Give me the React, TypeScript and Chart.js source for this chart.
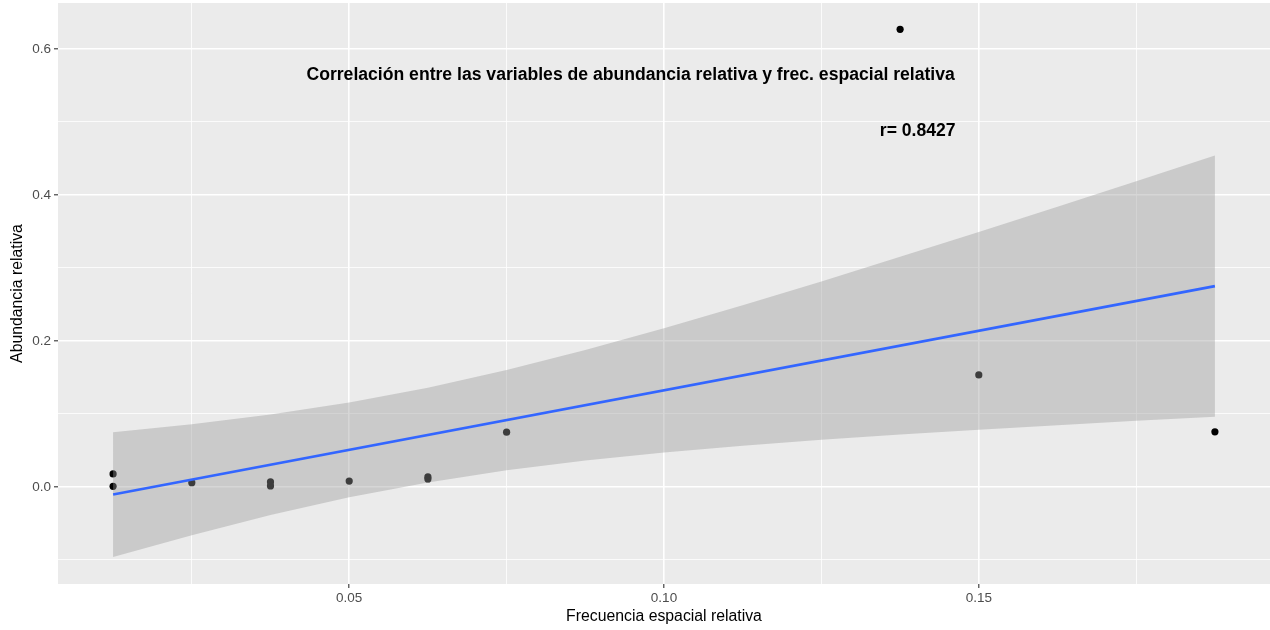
import React, { useEffect, useRef } from "react";
import { Chart, registerables } from "chart.js";

Chart.register(...registerables);

// ---- Data ----
const freq = [0.0125, 0.0125, 0.025, 0.0375, 0.0375, 0.05, 0.0625, 0.0625, 0.075, 0.1375, 0.15, 0.1875];
const abund = [0.0178, 0.0008, 0.0058, 0.0068, 0.0014, 0.008, 0.0137, 0.011, 0.075, 0.627, 0.1535, 0.0755];

const fitX = [0.0125, 0.1875];
const fitY = [-0.0105, 0.2751];

const bandX = [0.0125, 0.025, 0.0375, 0.05, 0.0625, 0.075, 0.0875, 0.1, 0.1125, 0.125, 0.1375, 0.15, 0.1625, 0.175, 0.1875];
const bandUpper = [0.075, 0.0859, 0.0992, 0.1157, 0.136, 0.1601, 0.1875, 0.2173, 0.2489, 0.2816, 0.3152, 0.3494, 0.384, 0.4189, 0.4541];
const bandLower = [-0.096, -0.0661, -0.0386, -0.0143, 0.0062, 0.0229, 0.0363, 0.0473, 0.0565, 0.0646, 0.0718, 0.0784, 0.0846, 0.0905, 0.0961];

const xMajorTicks = [0.05, 0.1, 0.15];
const xMinorTicks = [0.025, 0.075, 0.125, 0.175];
const xTickLabels = ["0.05", "0.10", "0.15"];
const yMajorTicks = [0, 0.2, 0.4, 0.6];
const yMinorTicks = [-0.1, 0.1, 0.3, 0.5];
const yTickLabels = ["0.0", "0.2", "0.4", "0.6"];

const titleText = "Correlación entre las variables de abundancia relativa y frec. espacial relativa";
const rText = "r= 0.8427";
const xTitle = "Frecuencia espacial relativa";
const yTitle = "Abundancia relativa";

const FONT = "'Liberation Sans', Arial, sans-serif";

const near = (a: number, b: number) => Math.abs(a - b) < 1e-9;
const majorIndex = (list: number[], v: number) => list.findIndex((m) => near(m, v));

export default function App() {
  const ref = useRef<HTMLCanvasElement | null>(null);

  useEffect(() => {
    if (!ref.current) return;

    const bgPlugin = {
      id: "ggbg",
      beforeDraw(chart: any) {
        const { ctx, chartArea: a } = chart;
        ctx.save();
        ctx.fillStyle = "#ffffff";
        ctx.fillRect(0, 0, chart.width, chart.height);
        ctx.fillStyle = "#EBEBEB";
        ctx.fillRect(a.left, a.top, a.right - a.left, a.bottom - a.top);
        ctx.restore();
      },
    };

    const textPlugin = {
      id: "ggtext",
      afterDraw(chart: any) {
        const { ctx, chartArea: a, scales } = chart;
        const xs = scales.x;
        const ys = scales.y;
        ctx.save();
        ctx.fillStyle = "#000000";
        ctx.textAlign = "center";
        ctx.textBaseline = "middle";
        ctx.font = `bold 17.6px ${FONT}`;
        ctx.fillText(titleText, xs.getPixelForValue(0.0947), ys.getPixelForValue(0.564));
        ctx.fillText(rText, xs.getPixelForValue(0.1403), ys.getPixelForValue(0.488));
        ctx.font = `15.8px ${FONT}`;
        ctx.fillText(xTitle, (a.left + a.right) / 2, 617);
        ctx.translate(18, (a.top + a.bottom) / 2);
        ctx.rotate(-Math.PI / 2);
        ctx.fillText(yTitle, 0, 0);
        ctx.restore();
      },
    };

    const chart = new Chart(ref.current, {
      type: "scatter",
      data: {
        datasets: [
          {
            label: "puntos",
            data: freq.map((x, i) => ({ x, y: abund[i] })),
            backgroundColor: "#000000",
            borderWidth: 0,
            pointRadius: 3.6,
            order: 3,
          },
          {
            label: "upper",
            data: bandX.map((x, i) => ({ x, y: bandUpper[i] })),
            showLine: true,
            borderWidth: 0,
            borderColor: "rgba(0,0,0,0)",
            pointRadius: 0,
            fill: "+1",
            backgroundColor: "rgba(153,153,153,0.4)",
            order: 2,
          },
          {
            label: "lower",
            data: bandX.map((x, i) => ({ x, y: bandLower[i] })),
            showLine: true,
            borderWidth: 0,
            borderColor: "rgba(0,0,0,0)",
            pointRadius: 0,
            fill: false,
            order: 2,
          },
          {
            label: "fit",
            data: fitX.map((x, i) => ({ x, y: fitY[i] })),
            showLine: true,
            borderColor: "#3366FF",
            borderWidth: 2.6,
            pointRadius: 0,
            fill: false,
            order: 1,
          },
        ],
      },
      options: {
        responsive: false,
        animation: false,
        events: [],
        layout: { autoPadding: false, padding: { top: 3, right: 0, bottom: 0, left: 0 } },
        plugins: {
          legend: { display: false },
          tooltip: { enabled: false },
          title: { display: false },
        },
        scales: {
          x: {
            type: "linear",
            min: 0.00375,
            max: 0.19625,
            afterFit: (s: any) => {
              s.height = 46;
              s.paddingLeft = 0;
              s.paddingRight = 0;
            },
            afterBuildTicks: (s: any) => {
              s.ticks = [...xMajorTicks, ...xMinorTicks].sort((a, b) => a - b).map((v) => ({ value: v }));
            },
            border: { display: false },
            grid: {
              color: "#ffffff",
              lineWidth: (c: any) => (majorIndex(xMajorTicks, c.tick?.value) >= 0 ? 1.6 : 0.8),
              tickColor: (c: any) => (majorIndex(xMajorTicks, c.tick?.value) >= 0 ? "#333333" : "rgba(0,0,0,0)"),
              tickLength: 4,
              tickWidth: 1.1,
            },
            ticks: {
              autoSkip: false,
              maxRotation: 0,
              padding: 2,
              color: "#4D4D4D",
              font: { family: FONT, size: 13.5 },
              callback: (v: any) => {
                const i = majorIndex(xMajorTicks, Number(v));
                return i >= 0 ? xTickLabels[i] : "";
              },
            },
          },
          y: {
            type: "linear",
            min: -0.133,
            max: 0.663,
            afterFit: (s: any) => {
              s.width = 58;
              s.paddingTop = 0;
              s.paddingBottom = 0;
            },
            afterBuildTicks: (s: any) => {
              s.ticks = [...yMajorTicks, ...yMinorTicks].sort((a, b) => a - b).map((v) => ({ value: v }));
            },
            border: { display: false },
            grid: {
              color: "#ffffff",
              lineWidth: (c: any) => (majorIndex(yMajorTicks, c.tick?.value) >= 0 ? 1.6 : 0.8),
              tickColor: (c: any) => (majorIndex(yMajorTicks, c.tick?.value) >= 0 ? "#333333" : "rgba(0,0,0,0)"),
              tickLength: 4,
              tickWidth: 1.1,
            },
            ticks: {
              autoSkip: false,
              padding: 3,
              color: "#4D4D4D",
              font: { family: FONT, size: 13.5 },
              callback: (v: any) => {
                const i = majorIndex(yMajorTicks, Number(v));
                return i >= 0 ? yTickLabels[i] : "";
              },
            },
          },
        },
      },
      plugins: [bgPlugin, textPlugin],
    } as any);

    return () => chart.destroy();
  }, []);

  return (
    <div style={{ position: "fixed", left: 0, top: 0, width: 1270, height: 630, background: "#fff" }}>
      <canvas ref={ref} width={1270} height={630} style={{ width: 1270, height: 630, display: "block" }} />
    </div>
  );
}
